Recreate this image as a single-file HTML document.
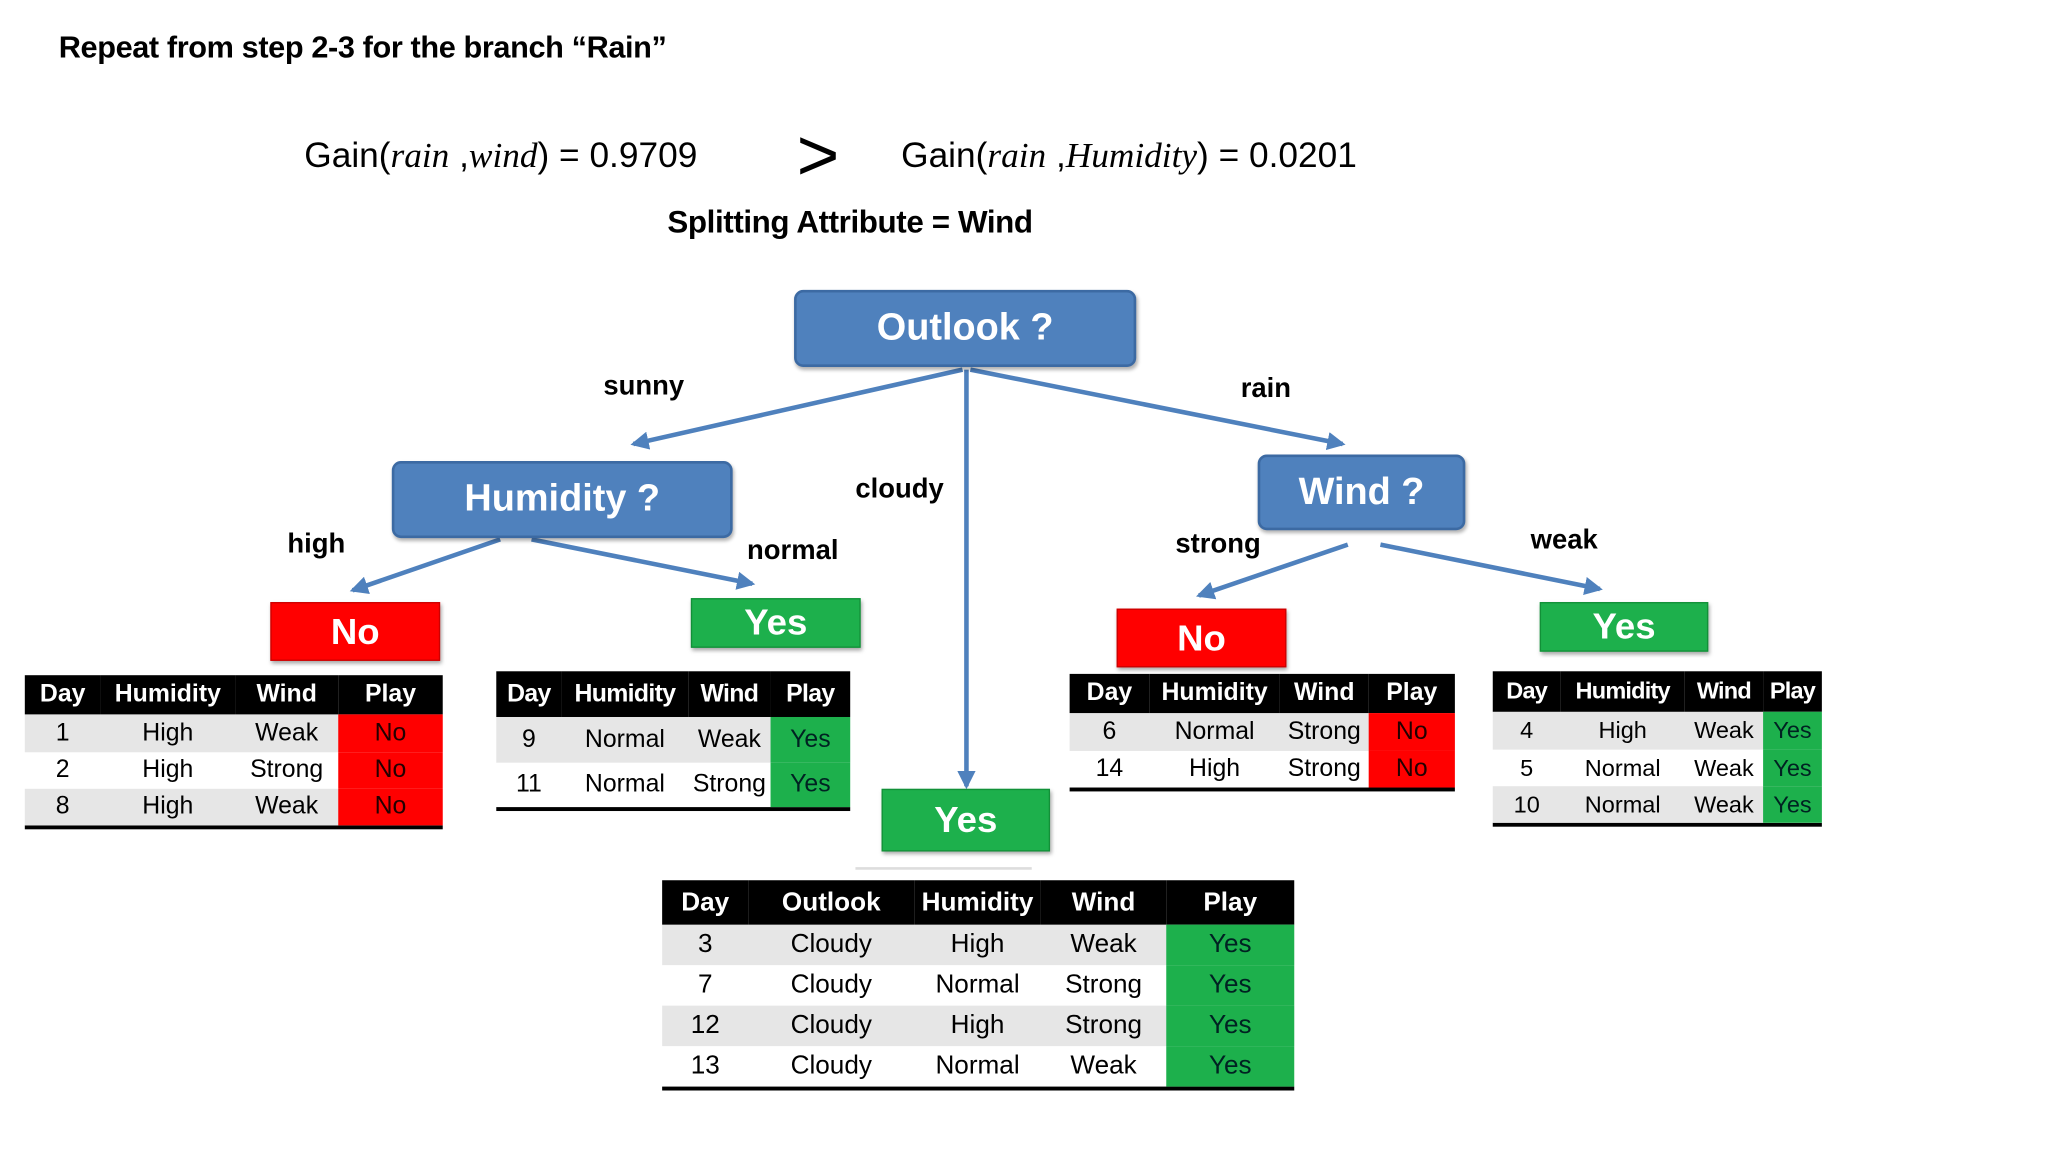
<!DOCTYPE html>
<html><head><meta charset="utf-8"><style>
html,body{margin:0;padding:0;background:#fff;width:2048px;height:1152px;overflow:hidden}
#w{position:absolute;left:0;top:0;width:1568px;height:882px;transform:scale(1.306);transform-origin:0 0;font-family:"Liberation Sans",sans-serif;color:#000}
.a{position:absolute;white-space:nowrap}
.b{font-weight:bold}
.node{position:absolute;background:#4f81bd;border:2px solid #3c6aa3;border-radius:7px;color:#fff;font-weight:bold;font-size:28px;display:flex;align-items:center;justify-content:center;box-shadow:1px 2px 3px rgba(0,0,0,.3);box-sizing:border-box}
.leaf{position:absolute;color:#fff;font-weight:bold;font-size:28px;display:flex;align-items:center;justify-content:center;box-shadow:1px 2px 3px rgba(0,0,0,.35);box-sizing:border-box}
.red{background:#f00;border:1px solid #c00}
.grn{background:#1db04c;border:1px solid #129038}
.lbl{position:absolute;font-weight:bold;font-size:21px;white-space:nowrap}
.t{position:absolute;border-bottom:3px solid #000;font-size:19px}
.r{display:flex}
.r div{display:flex;align-items:center;justify-content:center;box-sizing:border-box}
.h div{background:#000;color:#fff;font-weight:bold}
.g{background:#e6e6e6}
.pr{background:#f00!important;color:#200}
.pg{background:#1db04c!important;color:#022}
.it{font-family:'Liberation Serif',serif;font-style:italic}
</style></head><body><div id="w">
<div class="a b" style="left:45px;top:23px;font-size:23.5px;letter-spacing:-0.3px">Repeat from step 2-3 for the branch “Rain”</div>
<div class="a" style="left:233px;top:104px;font-size:27px">Gain(<span class="it">rain</span> ,<span class="it">wind</span>) = 0.9709</div>
<div class="a" style="left:610px;top:86px;font-size:56px">&gt;</div>
<div class="a" style="left:690px;top:104px;font-size:27px">Gain(<span class="it">rain</span> ,<span class="it">Humidity</span>) = 0.0201</div>
<div class="a b" style="left:511px;top:157px;font-size:24px;letter-spacing:-0.3px">Splitting Attribute = Wind</div>

<svg class="a" style="left:0;top:0" width="1568" height="882">
<defs><marker id="m" markerWidth="14" markerHeight="14" refX="10" refY="6" orient="auto" markerUnits="userSpaceOnUse" viewBox="0 0 12 12"><path d="M0,0 L12,6 L0,12 z" fill="#4f81bd"/></marker></defs>
<g stroke="#4f81bd" stroke-width="3.5" fill="none">
<line x1="737" y1="283" x2="485" y2="340" marker-end="url(#m)"/>
<line x1="743" y1="283" x2="1028" y2="340" marker-end="url(#m)"/>
<line x1="740" y1="283" x2="740" y2="602" marker-end="url(#m)"/>
<line x1="383" y1="413" x2="270" y2="452" marker-end="url(#m)"/>
<line x1="407" y1="413" x2="576" y2="447" marker-end="url(#m)"/>
<line x1="1032" y1="417" x2="918" y2="456" marker-end="url(#m)"/>
<line x1="1057" y1="417" x2="1225" y2="451" marker-end="url(#m)"/>
</g>
<line x1="655" y1="665" x2="790" y2="665" stroke="#ddd" stroke-width="2"/>
</svg>

<div class="node" style="left:608px;top:222px;width:262px;height:59px;font-size:29px">Outlook ?</div>
<div class="node" style="left:300px;top:353px;width:261px;height:59px;font-size:29px">Humidity ?</div>
<div class="node" style="left:963px;top:348px;width:159px;height:58px;font-size:29px">Wind ?</div>

<div class="lbl" style="left:462px;top:284px">sunny</div>
<div class="lbl" style="left:950px;top:286px">rain</div>
<div class="lbl" style="left:655px;top:363px">cloudy</div>
<div class="lbl" style="left:220px;top:405px">high</div>
<div class="lbl" style="left:572px;top:410px">normal</div>
<div class="lbl" style="left:900px;top:405px">strong</div>
<div class="lbl" style="left:1172px;top:402px">weak</div>

<div class="leaf red" style="left:207px;top:461px;width:130px;height:45px">No</div>
<div class="leaf grn" style="left:529px;top:458px;width:130px;height:38px">Yes</div>
<div class="leaf red" style="left:855px;top:466px;width:130px;height:45px">No</div>
<div class="leaf grn" style="left:1179px;top:461px;width:129px;height:38px">Yes</div>
<div class="leaf grn" style="left:675px;top:604px;width:129px;height:48px">Yes</div>

<div class="t" style="left:19px;top:517px;width:320px">
<div class="r h" style="height:30px"><div style="width:58px">Day</div><div style="width:103px">Humidity</div><div style="width:79px">Wind</div><div style="width:80px">Play</div></div>
<div class="r g" style="height:29px"><div style="width:58px">1</div><div style="width:103px">High</div><div style="width:79px">Weak</div><div class="pr" style="width:80px">No</div></div>
<div class="r" style="height:28px"><div style="width:58px">2</div><div style="width:103px">High</div><div style="width:79px">Strong</div><div class="pr" style="width:80px">No</div></div>
<div class="r g" style="height:28px"><div style="width:58px">8</div><div style="width:103px">High</div><div style="width:79px">Weak</div><div class="pr" style="width:80px">No</div></div>
</div>
<div class="t" style="left:380px;top:514px;width:271px">
<div class="r h" style="height:35px;letter-spacing:-0.5px"><div style="width:50px">Day</div><div style="width:97px">Humidity</div><div style="width:63px">Wind</div><div style="width:61px">Play</div></div>
<div class="r g" style="height:35px"><div style="width:50px">9</div><div style="width:97px">Normal</div><div style="width:63px">Weak</div><div class="pg" style="width:61px">Yes</div></div>
<div class="r" style="height:34px"><div style="width:50px">11</div><div style="width:97px">Normal</div><div style="width:63px">Strong</div><div class="pg" style="width:61px">Yes</div></div>
</div>
<div class="t" style="left:819px;top:516px;width:295px">
<div class="r h" style="height:30px"><div style="width:61px">Day</div><div style="width:100px">Humidity</div><div style="width:68px">Wind</div><div style="width:66px">Play</div></div>
<div class="r g" style="height:29px"><div style="width:61px">6</div><div style="width:100px">Normal</div><div style="width:68px">Strong</div><div class="pr" style="width:66px">No</div></div>
<div class="r" style="height:28px"><div style="width:61px">14</div><div style="width:100px">High</div><div style="width:68px">Strong</div><div class="pr" style="width:66px">No</div></div>
</div>
<div class="t" style="left:1143px;top:514px;width:252px;font-size:18px">
<div class="r h" style="height:31px;letter-spacing:-0.6px"><div style="width:52px">Day</div><div style="width:95px">Humidity</div><div style="width:60px">Wind</div><div style="width:45px">Play</div></div>
<div class="r g" style="height:29px"><div style="width:52px">4</div><div style="width:95px">High</div><div style="width:60px">Weak</div><div class="pg" style="width:45px">Yes</div></div>
<div class="r" style="height:28px"><div style="width:52px">5</div><div style="width:95px">Normal</div><div style="width:60px">Weak</div><div class="pg" style="width:45px">Yes</div></div>
<div class="r g" style="height:28px"><div style="width:52px">10</div><div style="width:95px">Normal</div><div style="width:60px">Weak</div><div class="pg" style="width:45px">Yes</div></div>
</div>
<div class="t" style="left:507px;top:674px;width:484px;font-size:20px">
<div class="r h" style="height:34px"><div style="width:66px">Day</div><div style="width:127px">Outlook</div><div style="width:97px">Humidity</div><div style="width:96px">Wind</div><div style="width:98px">Play</div></div>
<div class="r g" style="height:31px"><div style="width:66px">3</div><div style="width:127px">Cloudy</div><div style="width:97px">High</div><div style="width:96px">Weak</div><div class="pg" style="width:98px">Yes</div></div>
<div class="r" style="height:31px"><div style="width:66px">7</div><div style="width:127px">Cloudy</div><div style="width:97px">Normal</div><div style="width:96px">Strong</div><div class="pg" style="width:98px">Yes</div></div>
<div class="r g" style="height:31px"><div style="width:66px">12</div><div style="width:127px">Cloudy</div><div style="width:97px">High</div><div style="width:96px">Strong</div><div class="pg" style="width:98px">Yes</div></div>
<div class="r" style="height:31px"><div style="width:66px">13</div><div style="width:127px">Cloudy</div><div style="width:97px">Normal</div><div style="width:96px">Weak</div><div class="pg" style="width:98px">Yes</div></div>
</div>
</div></body></html>
